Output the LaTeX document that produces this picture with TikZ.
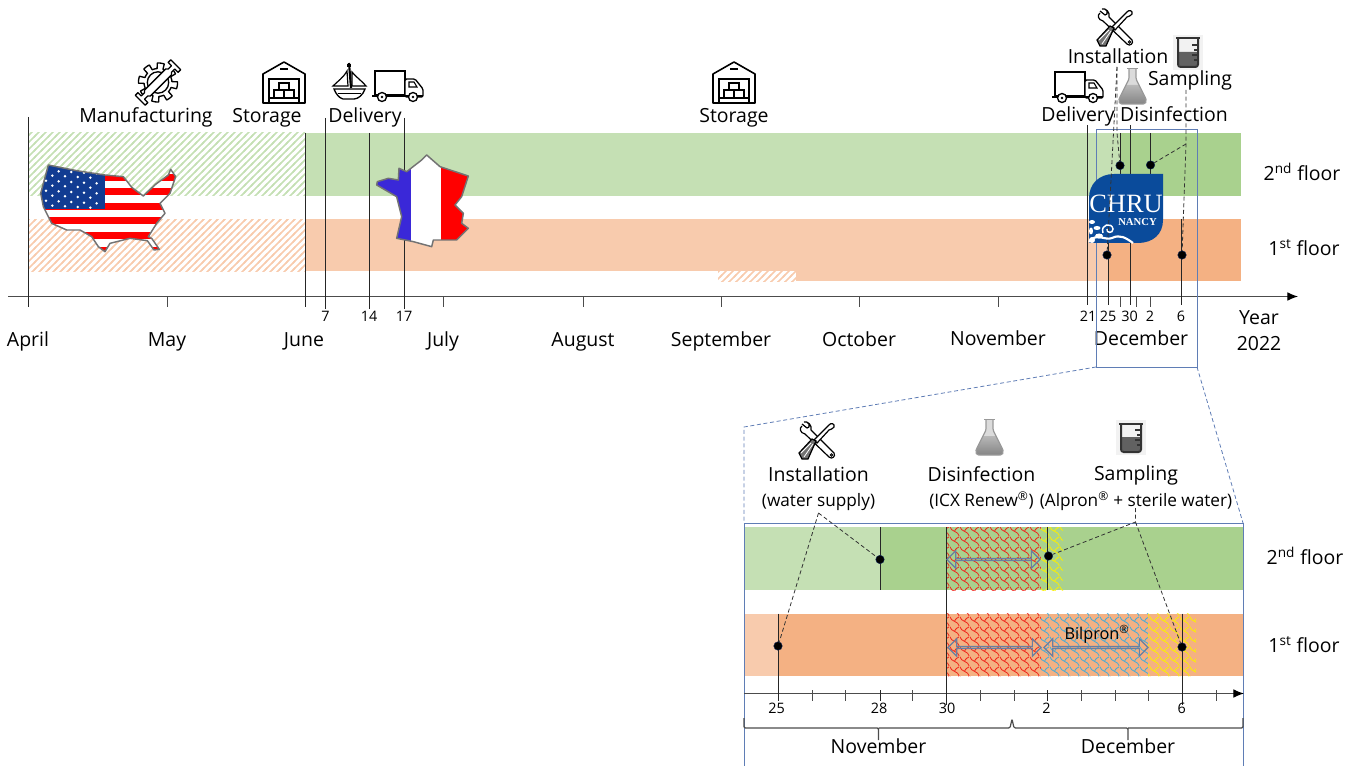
\documentclass[tikz,border=0pt]{standalone}
\usepackage{fontspec}
\setmainfont{Open Sans}
\newfontfamily\logofont{Liberation Serif}
\usetikzlibrary{calc}
\usetikzlibrary{patterns}
\usetikzlibrary{shapes.arrows}
\usetikzlibrary{arrows.meta}

\definecolor{greenL}{HTML}{C5E0B4}
\definecolor{greenD}{HTML}{A9D18E}
\definecolor{orangeL}{HTML}{F8CBAD}
\definecolor{orangeD}{HTML}{F4B183}
\definecolor{frameblue}{HTML}{5F7DB5}
\definecolor{arrowblue}{HTML}{6A7FA0}
\definecolor{chru}{HTML}{0A4B9B}
\definecolor{flagblue}{HTML}{3A28D8}
\definecolor{usblue}{HTML}{123C92}
\definecolor{cellblue}{HTML}{45ABD8}
\definecolor{cellred}{HTML}{F0251A}
\definecolor{cellyellow}{HTML}{FAF000}

\pgfdeclarepatternformonly{stripes}{\pgfqpoint{-1pt}{-1pt}}{\pgfqpoint{6.25pt}{6.25pt}}{\pgfqpoint{5.25pt}{5.25pt}}{%
  \pgfsetlinewidth{1.2pt}
  \pgfpathmoveto{\pgfqpoint{-1pt}{-1pt}}
  \pgfpathlineto{\pgfqpoint{6.25pt}{6.25pt}}
  \pgfusepath{stroke}
}
\pgfdeclarepatternformonly{shingle}{\pgfqpoint{0pt}{0pt}}{\pgfqpoint{7.5pt}{7.5pt}}{\pgfqpoint{7.5pt}{7.5pt}}{%
  \pgfsetlinewidth{0.65pt}
  \pgfpathmoveto{\pgfqpoint{0pt}{7.5pt}}
  \pgfpathcurveto{\pgfqpoint{0.4pt}{3.5pt}}{\pgfqpoint{7.1pt}{4pt}}{\pgfqpoint{7.5pt}{0pt}}
  \pgfpathmoveto{\pgfqpoint{3.75pt}{3.75pt}}
  \pgfpathcurveto{\pgfqpoint{4.5pt}{6.5pt}}{\pgfqpoint{6.5pt}{6.5pt}}{\pgfqpoint{7.5pt}{7.5pt}}
  \pgfusepath{stroke}
}

\tikzset{%
  lab/.style={font=\fontsize{14.6}{16}\selectfont, inner sep=0pt, text height=13pt, text depth=3pt},
  sublab/.style={font=\fontsize{12.9}{14}\selectfont, inner sep=0pt, text height=12pt, text depth=3pt},
  num/.style={font=\fontsize{10.8}{12}\selectfont, inner sep=0pt},
  dateline/.style={draw=black!85, line width=0.7pt},
  tickline/.style={draw=black!70, line width=0.7pt},
  axisline/.style={draw=black!70, line width=0.8pt, -{Latex[length=8pt,width=6.5pt,black]}},
  leader/.style={draw=black!80, dashed, dash pattern=on 3pt off 2pt, line width=0.6pt},
  zoomline/.style={draw=frameblue, dashed, dash pattern=on 3pt off 2pt, line width=0.6pt},
  framed/.style={draw=frameblue, line width=0.7pt},
  dot/.style={circle, fill=black, draw=usblue!60!black, line width=0.3pt, inner sep=0pt, minimum size=6.4pt},
  cellarrow/.style={double arrow, draw=arrowblue, line width=0.9pt, fill=none,
    inner sep=0pt, minimum width=13pt, double arrow head extend=3.2pt},
  truck/.pic={
    \draw[line width=1pt, fill=white] (3,0) rectangle (33,24);
    \draw[line width=1pt, fill=white, rounded corners=1pt] (33,8) -- (43,8) -- (51,18) -- (51,26) -- (33,26) -- cycle;
    \draw[line width=0.8pt] (37,11) -- (42,11) -- (45,16) -- (37,16) -- cycle;
    \draw[line width=1.5pt] (0,25) -- (51,25);
    \draw[line width=1pt, fill=white] (10,26) circle (4.5);
    \draw[line width=1pt, fill=white] (41,26) circle (4.5);
    \fill (10,26) circle (1.4) (41,26) circle (1.4);
  },
  depot/.pic={
    \draw[line width=1.2pt, line join=round] (0,41) -- (0,12) -- (21,0) -- (42,12) -- (42,41) -- cycle;
    \draw[line width=1.2pt] (6,41) -- (6,17) -- (36,17) -- (36,41);
    \draw[line width=1pt] (17,7) -- (25,7);
    \draw[line width=1pt] (6,36) -- (36,36);
    \draw[line width=1pt] (16,21) rectangle (26,28) (11,28) rectangle (21,36) (21,28) rectangle (31,36);
  },
  boat/.pic={
    \draw[line width=1.6pt] (17,0) -- (19,25);
    \fill (15,1) rectangle (19,4);
    \draw[line width=0.9pt, fill=white] (15,8) .. controls (11,15) and (6,18) .. (1,23) -- (16,23) -- cycle;
    \draw[line width=0.9pt, fill=white] (20,9) .. controls (25,15) and (30,18) .. (34,23) -- (20,23) -- cycle;
    \draw[line width=1pt, fill=white] (2,26) -- (33,26) .. controls (31,32) and (26,36) .. (22,36) -- (11,36) .. controls (7,35) and (4,31) .. (2,26) -- cycle;
    \draw[line width=0.7pt] (6,30) -- (29,30);
  },
  gearkey/.pic={
    \draw[line width=1pt, line join=round, fill=white] plot[domain=0:360, samples=193]
      ({(18+3*sign(sin(8*\x+20)))*cos(\x)},{(18+3*sign(sin(8*\x+20)))*sin(\x)}) -- cycle;
    \draw[line width=1pt] (0,0) circle (11.5);
    \begin{scope}[rotate=45]
      \draw[line width=1pt, fill=white, line join=round] (-27,-7.5) -- (-23,-7.5) -- (-23,-2.5) -- (-18,-2.5) -- (-16,-4.5) -- (16,-4.5)
        -- (18,-2.5) -- (23,-2.5) -- (23,-7.5) -- (27,-7.5) -- (27,7.5) -- (23,7.5) -- (23,2.5) -- (18,2.5) -- (16,4.5) -- (-16,4.5)
        -- (-18,2.5) -- (-23,2.5) -- (-23,7.5) -- (-27,7.5) -- cycle;
    \end{scope}
  },
  tools/.pic={
    \draw[line width=0.9pt, fill=white, line join=round] (3,2) -- (8,6) -- (10,5) -- (10,2) .. controls (9,0) and (6,-1) .. (5,0)
      (3,4) .. controls (0,6) and (1,11) .. (6,12) -- (30,35) .. controls (33,38) and (37,34) .. (35,31) -- (12,8) .. controls (13,3) and (9,-1) .. (5,0);
    \draw[line width=0.7pt] (32.5,33) circle (1.2);
    \draw[line width=0.9pt, fill=white] (30,3) .. controls (32,0) and (36,2) .. (35,5) .. controls (34,7) and (32,7) .. (30,8) -- (18,21) -- (15,18) -- cycle;
    \draw[line width=0.9pt, fill=black!55] (17,19) -- (9,37) -- (3,37) -- (0,31) -- (13,17) -- cycle;
    \draw[line width=0.6pt, white] (5,35) -- (14,22) (2,31) -- (12,21);
  },
  flask/.pic={
    \fill[black!14] (11,2) -- (18,2) -- (18,12) -- (21,18) -- (8,18) -- (11,12) -- cycle;
    \shade[top color=black!28, bottom color=black!48] (8,18) -- (21,18) -- (27.5,31) .. controls (29,35) and (27,37) .. (24,37) -- (5,37) .. controls (2,37) and (0,35) .. (1.5,31) -- cycle;
    \draw[black!40, line width=0.9pt, rounded corners=1pt] (11,2) -- (11,12) -- (1.5,31) .. controls (0,35) and (2,37) .. (5,37) -- (24,37) .. controls (27,37) and (29,35) .. (27.5,31) -- (18,12) -- (18,2);
    \draw[black!40, line width=1.4pt] (9,1.5) -- (20,1.5);
  },
  beaker/.pic={
    \fill[black!5] (-2,-2) rectangle (28,33);
    \fill[black!62] (3,15) -- (23,15) -- (23,27) -- (20,30) -- (6,30) -- (3,27) -- cycle;
    \draw[black!80, line width=1.5pt, rounded corners=2pt] (1,1.5) -- (25,1.5);
    \draw[black!80, line width=1.5pt, rounded corners=2pt] (3,1.5) -- (3,30) -- (23,30) -- (23,1.5);
    \draw[black!80, line width=0.9pt] (17,8) -- (23,8) (19,13) -- (23,13) (17,18) -- (23,18) (19,23) -- (23,23);
  }
}

\begin{document}
\begin{tikzpicture}[x=0.75pt, y=-0.75pt]
  \useasboundingbox (0,0) rectangle (1358,766);

  % bands of the year
  \fill[pattern=stripes, pattern color=greenL] (28,133) rectangle (305,196);
  \fill[pattern=stripes, pattern color=orangeL] (28,220) rectangle (305,271.5);
  \fill[greenL] (305,133) rectangle (1120,196);
  \fill[greenD] (1120,133) rectangle (1240.5,196);
  \fill[orangeL] (305,219.5) rectangle (718,271.5);
  \fill[orangeL] (718,219.5) rectangle (1107.5,271.5);
  \fill[pattern=stripes, pattern color=orangeL] (718,271.5) rectangle (796,282);
  \fill[orangeL] (796,271) rectangle (1107.5,281);
  \fill[orangeD] (1107.5,219.5) rectangle (1240.5,281);

  % year axis
  \coordinate (yStart) at (8,296.5);
  \coordinate (yEnd) at (1298,296.5);
  \draw[axisline] (yStart) -- (yEnd);
  \foreach \x in {167,443,583,721,859,998,1120.5,1136.5,1150.5} {
    \coordinate (u) at (\x,296.5);
    \coordinate (v) at (\x,306.5);
    \draw[tickline] (u) -- (v);
  }
  \foreach \id/\x/\top/\bot in {apr/28.5/117/307, jun/305/133/307, d7/325.5/118/309, d14/369/133/309, d17/404/118/309,
      d21/1087.7/125/305, d25/1108.7/243/305, d30a/1130/125/175, d30b/1130/243/305, d29/1120.5/133/175, d2/1150.5/133/175, d6/1181.5/219.5/305} {
    \coordinate (\id t) at (\x,\top);
    \coordinate (\id b) at (\x,\bot);
    \draw[dateline] (\id t) -- (\id b);
  }
  \foreach \id/\x/\txt in {n7/325.5/7, n14/369/14, n17/404/17, n21/1088/21, n25/1108/25, n30/1129.5/30, n2/1150/2, n6/1181/6}
    \node[num] (\id) at (\x,316) {\txt};
  \foreach \id/\x/\y/\txt in {mApr/28/340/April, mMay/167/340/May, mJun/304/340/June, mJul/443/340/July, mAug/583/340/August,
      mSep/721/340/September, mOct/859/340/October, mNov/998/339/November, mDec/1141/339/December, yrA/1259/318/Year, yrB/1259/344/2022}
    \node[lab] (\id) at (\x,\y) {\txt};

  % the two flags
  \begin{scope}[shift={(0,50)}, scale=1/3]
    \begin{scope}
      \clip (145,345) -- (230,362) -- (315,375) -- (370,380) -- (382,395) -- (395,412) -- (430,438) -- (468,402) -- (505,375) -- (512,358) -- (527,380) -- (510,430)
        -- (480,460) -- (495,490) -- (470,520) -- (445,560) -- (455,565) -- (478,598) -- (462,600) -- (442,572) -- (390,565) -- (330,580) -- (315,605) -- (295,590)
        -- (275,560) -- (240,540) -- (200,540) -- (155,520) -- (130,470) -- (122,430) -- cycle;
      \fill[white] (100,330) rectangle (540,620);
      \foreach \yy in {372,415,458,502,545,590}
        \fill[red] (100,\yy) rectangle (540,\yy+21);
      \fill[usblue] (100,330) rectangle (315,478);
      \foreach \i in {0,...,4} \foreach \j in {0,...,3}
        \fill[white] (138+\i*38,362+\j*30+\i*2) circle (4.2);
      \foreach \i in {0,...,3} \foreach \j in {0,...,3}
        \fill[white] (157+\i*38,377+\j*30+\i*2) circle (4.2);
    \end{scope}
    \draw[black!55, line width=1.1pt, line join=round] (145,345) -- (230,362) -- (315,375) -- (370,380) -- (382,395) -- (395,412) -- (430,438) -- (468,402) -- (505,375) -- (512,358) -- (527,380) -- (510,430)
      -- (480,460) -- (495,490) -- (470,520) -- (445,560) -- (455,565) -- (478,598) -- (462,600) -- (442,572) -- (390,565) -- (330,580) -- (315,605) -- (295,590)
      -- (275,560) -- (240,540) -- (200,540) -- (155,520) -- (130,470) -- (122,430) -- cycle;
    \begin{scope}
      \clip (1132,395) -- (1165,385) -- (1195,390) -- (1197,355) -- (1220,365) -- (1265,330) -- (1280,315) -- (1320,350) -- (1405,378) -- (1385,440)
        -- (1365,465) -- (1390,490) -- (1385,520) -- (1405,535) -- (1370,570) -- (1300,570) -- (1295,590) -- (1240,575) -- (1190,565) -- (1205,500) -- (1190,440) -- (1130,405) -- cycle;
      \fill[flagblue] (1120,300) rectangle (1232,600);
      \fill[white] (1232,300) rectangle (1322,600);
      \fill[red] (1322,300) rectangle (1420,600);
    \end{scope}
    \draw[black!55, line width=1.1pt, line join=round] (1132,395) -- (1165,385) -- (1195,390) -- (1197,355) -- (1220,365) -- (1265,330) -- (1280,315) -- (1320,350) -- (1405,378) -- (1385,440)
      -- (1365,465) -- (1390,490) -- (1385,520) -- (1405,535) -- (1370,570) -- (1300,570) -- (1295,590) -- (1240,575) -- (1190,565) -- (1205,500) -- (1190,440) -- (1130,405) -- cycle;
  \end{scope}

  % icons and labels above the bands
  \pic[scale=0.93] at (158,82.5) {gearkey};
  \pic at (263,62) {depot};
  \pic at (332,63) {boat};
  \pic at (372,71) {truck};
  \pic at (713,62) {depot};
  \pic at (1052,72) {truck};
  \pic at (1118,67) {flask};
  \pic at (1097,9) {tools};
  \pic at (1175,37) {beaker};
  \foreach \id/\x/\y/\txt in {lMan/146/116/Manufacturing, lSto/267/116/Storage, lDel/365/116/Delivery, lStoB/734/116/Storage,
      lDelB/1078/115/Delivery, lDis/1174/115/Disinfection, lIns/1118/57/Installation, lSam/1190/79/Sampling}
    \node[lab] (\id) at (\x,\y) {\txt};
  \node[lab] (fl2) at (1302,174) {2\textsuperscript{nd} floor};
  \node[lab] (fl1) at (1304,249) {1\textsuperscript{st} floor};

  % frame of the close-up
  \coordinate (fTL) at (1096,129);
  \coordinate (fTR) at (1197,129);
  \coordinate (fBL) at (1096,367);
  \coordinate (fBR) at (1197,367);
  \draw[framed] (fTL) -- (fTR) -- (fBR) -- (fBL) -- cycle;

  % logo
  \fill[chru] (1114,174) -- (1163,174) -- (1163,220) .. controls (1163,234) and (1153,243) .. (1138,243) -- (1089,243) -- (1089,198) .. controls (1089,184) and (1099,174) .. (1114,174) -- cycle;
  \node[text=white, inner sep=0pt, font=\logofont\fontsize{19.8}{22}\selectfont] (logoA) at (1126,203.5) {CHRU};
  \node[text=white, inner sep=0pt, font=\logofont\bfseries\fontsize{8}{10}\selectfont] (logoB) at (1137.5,222) {NANCY};
  \draw[white, line width=1.1pt] (1103,233) .. controls (1100,224) and (1112,222) .. (1113,229) .. controls (1113,234) and (1106,233) .. (1107,229);
  \draw[white, line width=1.6pt] (1089,242) .. controls (1096,232) and (1105,241) .. (1112,238) .. controls (1120,234) and (1126,238) .. (1133,243);
  \fill[white] (1092,222) ellipse (3 and 2) (1097,228) ellipse (3.5 and 2) (1091,231) ellipse (2 and 3.5) (1099,236) ellipse (4 and 2.5) (1092,240) ellipse (3 and 3);

  % dots and leaders, year
  \node[dot] (dA) at (1120,165.5) {};
  \node[dot] (dB) at (1150.5,165) {};
  \node[dot] (dC) at (1107,255) {};
  \node[dot] (dD) at (1182,255) {};
  \coordinate (iA) at (1117,67);
  \coordinate (iB) at (1117,133);
  \coordinate (sA) at (1186,90);
  \coordinate (sB) at (1186,144);
  \draw[leader] (iA) -- (iB) -- (dA);
  \draw[leader] (iA) -- (dC);
  \draw[leader] (sA) -- (sB) -- (dD);
  \draw[leader] (sB) -- (dB);

  % connection to the close-up
  \coordinate (zTL) at (744,427);
  \coordinate (zML) at (744,523);
  \coordinate (zMR) at (1243,523);
  \coordinate (zBL) at (744,766);
  \coordinate (zBR) at (1243,766);
  \draw[zoomline] (fBL) -- (zTL) -- (zML);
  \draw[zoomline] (fBR) -- (zMR);

  % close-up bands
  \fill[greenL] (744,527) rectangle (880,590);
  \fill[greenD] (880,527) rectangle (1243,590);
  \fill[orangeL] (744,613.5) rectangle (778,676);
  \fill[orangeD] (778,613.5) rectangle (1243,676);
  \fill[pattern=shingle, pattern color=cellred] (946.5,527) rectangle (1041,590);
  \fill[pattern=shingle, pattern color=cellyellow] (1041,527) rectangle (1063,590);
  \fill[pattern=shingle, pattern color=cellred] (946.5,613.5) rectangle (1041,676);
  \fill[pattern=shingle, pattern color=cellblue] (1041,613.5) rectangle (1148,676);
  \fill[pattern=shingle, pattern color=cellyellow] (1148,613.5) rectangle (1196,676);
  \draw[framed] (zBL) -- (zML) -- (zMR) -- (zBR);

  % close-up axis
  \coordinate (cStart) at (744,693.5);
  \coordinate (cEnd) at (1244,693.5);
  \draw[axisline] (cStart) -- (cEnd);
  \foreach \x in {812,845,912.5,980,1014,1081,1115,1148,1216} {
    \coordinate (u) at (\x,690);
    \coordinate (v) at (\x,701);
    \draw[tickline] (u) -- (v);
  }
  \foreach \id/\x/\top/\bot in {c25/778/613.5/701, c28/880/527/590, c28b/880/690/701, c30/946.5/527/705, c2/1047/527/590, c2b/1047/690/701, c6/1182/613.5/705} {
    \coordinate (\id t) at (\x,\top);
    \coordinate (\id b) at (\x,\bot);
    \draw[dateline] (\id t) -- (\id b);
  }
  \foreach \id/\x/\txt in {t25/776.6/25, t28/879/28, t30/947/30, t2/1046.5/2, t6/1181.7/6}
    \node[num] (\id) at (\x,708) {\txt};

  % braces of the months
  \draw[tickline, line width=0.9pt, rounded corners=1pt] (744,718) -- (744,728) -- (878.5,728) -- (878.5,740) (878.5,728) -- (1010,728) -- (1012,719) -- (1014,728) -- (1128,728) -- (1128,740) (1128,728) -- (1243,728) -- (1243,718);
  \node[lab] (lNov) at (878.5,746.5) {November};
  \node[lab] (lDec) at (1128,746.5) {December};

  % arrows of the products
  \node[cellarrow, minimum height=93pt*0.75] (aRen) at (993.5,559.5) {};
  \node[cellarrow, minimum height=93pt*0.75] (aRenB) at (994.5,647.5) {};
  \node[cellarrow, minimum height=104pt*0.75] (aBil) at (1096,647.5) {};
  \node[sublab, font=\fontsize{12.2}{14}\selectfont] (lBil) at (1097,633.5) {Bilpron\textsuperscript{®}};

  % close-up labels
  \pic at (799,422) {tools};
  \pic at (975,418) {flask};
  \pic at (1118,422) {beaker};
  \node[lab] (cIns) at (818.5,475) {Installation};
  \node[sublab] (cInsB) at (818.5,500.5) {(water supply)};
  \node[lab] (cDis) at (981.5,475) {Disinfection};
  \node[sublab] (cDisB) at (981.5,500.5) {(ICX Renew\textsuperscript{®})};
  \node[lab] (cSam) at (1136,474) {Sampling};
  \node[sublab] (cSamB) at (1136,500) {(Alpron\textsuperscript{®} + sterile water)};
  \node[lab] (cFl2) at (1305,558) {2\textsuperscript{nd} floor};
  \node[lab] (cFl1) at (1304,646) {1\textsuperscript{st} floor};

  % dots and leaders, close-up
  \node[dot] (eA) at (880,559.5) {};
  \node[dot] (eB) at (1048.5,556) {};
  \node[dot] (eC) at (778,646) {};
  \node[dot] (eD) at (1182,647) {};
  \coordinate (jA) at (818.5,513);
  \coordinate (kA) at (1135.5,508);
  \coordinate (kB) at (1135.5,522);
  \draw[leader] (jA) -- (eA);
  \draw[leader] (jA) -- (eC);
  \draw[leader] (kA) -- (kB) -- (eB);
  \draw[leader] (kB) -- (eD);
\end{tikzpicture}
\end{document}
